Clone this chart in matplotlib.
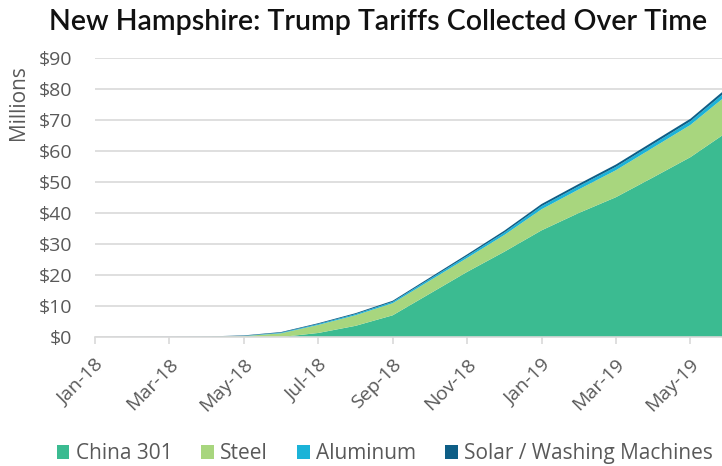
import matplotlib
matplotlib.use("Agg")
import matplotlib.pyplot as plt
from matplotlib.patches import Patch
import matplotlib.transforms as mtransforms
import numpy as np

months = ["Jan-18", "Feb-18", "Mar-18", "Apr-18", "May-18", "Jun-18", "Jul-18", "Aug-18",
          "Sep-18", "Oct-18", "Nov-18", "Dec-18", "Jan-19", "Feb-19", "Mar-19", "Apr-19",
          "May-19", "Jun-19"]
china301 = [0, 0, 0, 0, 0, 0, 1.3, 3.6, 7.0, 14.0, 21.0, 27.5, 34.4, 40.0, 45.1, 51.5, 58.0, 66.2]
steel = [0, 0, 0, 0.05, 0.3, 1.2, 2.6, 3.4, 3.9, 4.2, 4.5, 5.4, 6.8, 7.6, 8.7, 9.6, 10.4, 12.0]
aluminum = [0, 0, 0, 0.02, 0.08, 0.2, 0.3, 0.38, 0.45, 0.55, 0.65, 0.8, 1.0, 1.05, 1.1, 1.15, 1.2, 1.4]
solar = [0, 0.03, 0.06, 0.1, 0.14, 0.2, 0.25, 0.3, 0.35, 0.42, 0.5, 0.6, 0.7, 0.72, 0.75, 0.78, 0.8, 0.9]
series_names = ["China 301", "Steel", "Aluminum", "Solar / Washing Machines"]
colors = ["#3bbb91", "#a8d67e", "#1bb3d8", "#0e5e86"]
yticks = list(range(0, 100, 10))
tick_months = months[0:17:2]

text_col = "#595959"
font = "Open Sans"
fig = plt.figure(figsize=(7.22, 4.66), dpi=100)
ax = fig.add_axes([95/722, 129/466, (722-95)/722, (337-58)/466])

x = np.arange(len(months))
ax.stackplot(x, china301, steel, aluminum, solar, colors=colors, linewidth=0)

ax.set_xlim(0, 16.85)
ax.set_ylim(0, 90)
ax.set_yticks(yticks)
ax.set_yticklabels([f"${v}" for v in yticks])
ax.set_xticks(x[0:17:2])
ax.set_xticklabels(tick_months, rotation=45, ha="right", va="center", rotation_mode="anchor")
ax.grid(axis="y", color="#d9d9d9", linewidth=1.2)
ax.set_axisbelow(True)
for s in ["top", "right", "left"]:
    ax.spines[s].set_visible(False)
ax.spines["bottom"].set_color("#d9d9d9")
ax.spines["bottom"].set_linewidth(1.2)
ax.tick_params(axis="y", length=0, pad=16.5, labelsize=14, labelcolor=text_col)
ax.tick_params(axis="x", length=5, color="#d9d9d9", width=1.2, pad=13, labelsize=14, labelcolor=text_col)
offset = mtransforms.ScaledTranslation(6/100, 0, fig.dpi_scale_trans)
for lab in ax.get_xticklabels():
    lab.set_fontfamily(font)
    lab.set_transform(lab.get_transform() + offset)
for lab in ax.get_yticklabels():
    lab.set_fontfamily(font)
ax.set_ylabel("Millions", fontsize=15, color=text_col, family=font)
ax.yaxis.set_label_coords(-0.106, 0.839)

fig.text(0.524, 0.953, "New Hampshire: Trump Tariffs Collected Over Time", ha="center", va="center",
         fontsize=20.5, fontweight="semibold", family="Lato", color="#111111")

handles = [Patch(facecolor=c, edgecolor="none") for c in colors]
fig.legend(handles, series_names, loc="center", bbox_to_anchor=(0.533, 0.026), ncol=4, frameon=False,
           handlelength=0.6, handleheight=0.6, handletextpad=0.3, columnspacing=1.4,
           prop={"family": font, "size": 15}, labelcolor=text_col)

fig.savefig("out.png", dpi=100)
